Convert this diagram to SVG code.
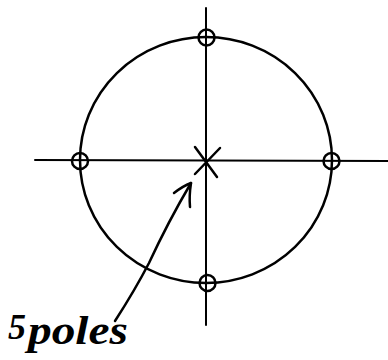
<svg xmlns="http://www.w3.org/2000/svg" width="388" height="360" viewBox="0 0 388 360">
<style>
.ln{fill:none;stroke:#000;stroke-linecap:round;stroke-linejoin:round}
.ax{stroke-width:2}
.cir{stroke-width:2.5}
.zero{fill:none;stroke:#000;stroke-width:2.5}
.lbl{font-family:"Liberation Serif",serif;font-style:italic;font-weight:bold;fill:#000}
</style>
<g id="axes">
<path class="ln ax" d="M35 160 L388 161"/>
<path class="ln ax" d="M206 8 L206 325"/>
</g>
<g id="unit-circle">
<ellipse class="ln cir" cx="206" cy="160" rx="126" ry="123"/>
</g>
<g id="zero-top"><circle class="zero" cx="206.5" cy="37.5" r="8"/></g>
<g id="zero-left"><circle class="zero" cx="80" cy="161" r="8"/></g>
<g id="zero-right"><circle class="zero" cx="331.5" cy="161" r="8"/></g>
<g id="zero-bottom"><circle class="zero" cx="207.5" cy="283" r="8"/></g>
<g id="pole">
<path class="ln cir" d="M195 147 L217 177 M195 174 L220 148"/>
</g>
<g id="connectors">
<path class="ln cir" d="M115 321 Q135 290 149 263 Q168 222 191 183"/>
<path class="ln cir" d="M174 193 Q183 186 191 183 Q189 196 190 207"/>
</g>
<g id="label">
<text class="lbl" x="8" y="339" font-size="36">5<tspan x="28" y="344" font-size="40" textLength="100" lengthAdjust="spacingAndGlyphs">poles</tspan></text>
</g>
</svg>
